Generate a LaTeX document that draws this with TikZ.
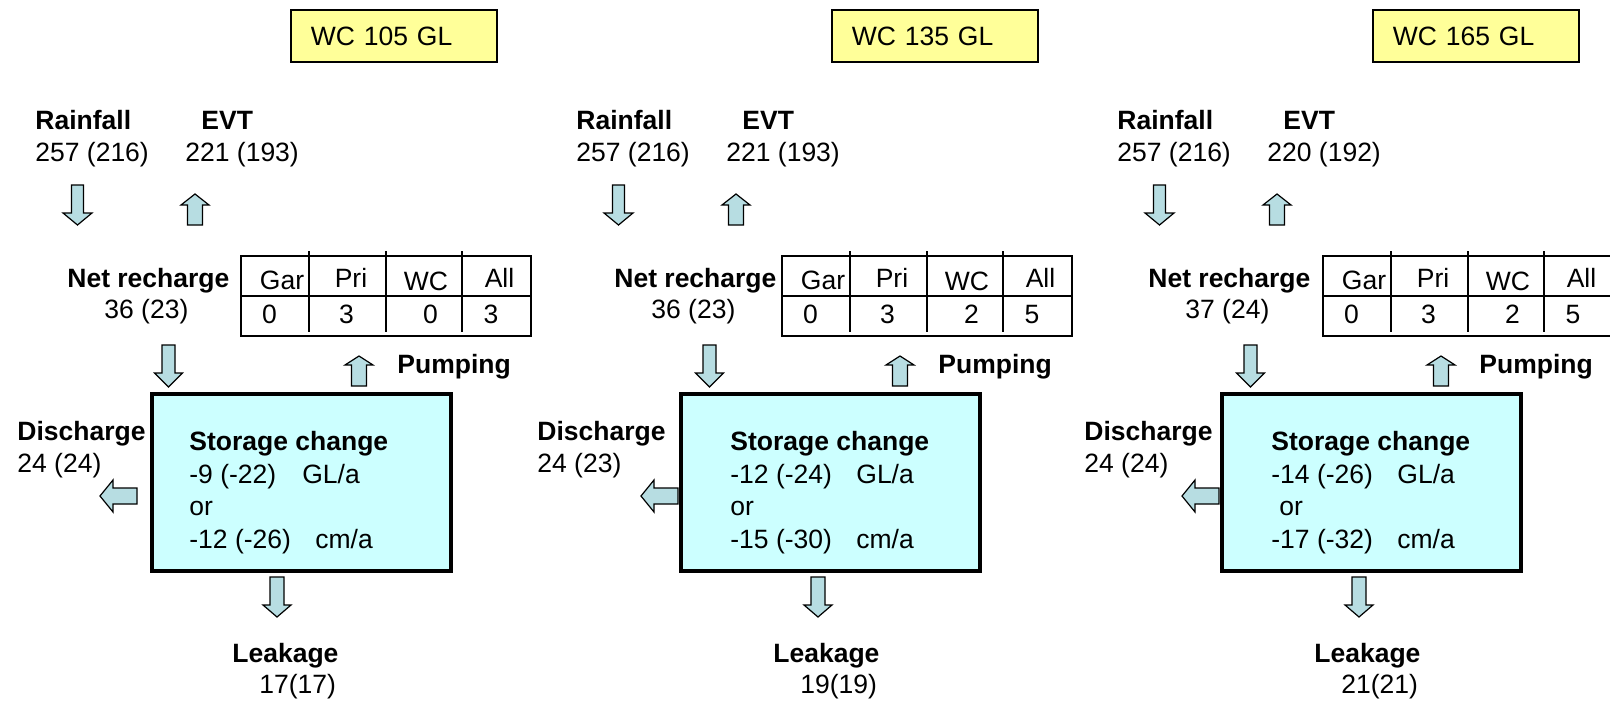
\documentclass[tikz,border=0pt]{standalone}
\usepackage{fontspec}
\setmainfont{Liberation Sans}
\definecolor{titlefill}{HTML}{FFFF99}
\definecolor{storefill}{HTML}{CCFFFF}
\definecolor{arrowfill}{RGB}{183,221,226}

% block arrows: vertical (cx, tail, head base, tip, shaft half-width, head half-width)
\newcommand\flowv[6]{\filldraw[flowarrow] ({#1-#5},#2) -- ({#1+#5},#2) -- ({#1+#5},#3) -- ({#1+#6},#3) -- (#1,#4) -- ({#1-#6},#3) -- ({#1-#5},#3) -- cycle;}
% horizontal (cy, tail, head base, tip, shaft half-width, head half-width)
\newcommand\flowh[6]{\filldraw[flowarrow] (#2,{#1-#5}) -- (#2,{#1+#5}) -- (#3,{#1+#5}) -- (#3,{#1+#6}) -- (#4,#1) -- (#3,{#1-#6}) -- (#3,{#1-#5}) -- cycle;}

\begin{document}
\begin{tikzpicture}[x=0.5pt,y=-0.5pt,
  basefont/.style={font=\fontsize{13.25pt}{16pt}\selectfont},
  txt/.style={basefont,anchor=base west,inner sep=0pt},
  head/.style={txt,font=\fontsize{13.25pt}{16pt}\selectfont\bfseries},
  cell/.style={basefont,anchor=base,inner sep=0pt},
  titlebox/.style={draw,line width=0.9pt,fill=titlefill,anchor=north west,
    minimum width=103pt,minimum height=26pt,inner xsep=10pt,inner ysep=0pt,
    text width=83pt,align=left,basefont},
  storebox/.style={draw,line width=2pt,fill=storefill,minimum width=149.5pt,
    minimum height=88.5pt,inner sep=0pt},
  flowarrow/.style={draw=black,line width=0.6pt,fill=arrowfill,line join=miter},
  tableline/.style={line width=1pt}]

\useasboundingbox (0,0) rectangle (1610,701);
\clip (0,0) rectangle (1610,701);
\fill[white] (0,0) rectangle (1610,701);

\foreach \p/\dx/\title/\evt/\nr/\nrx/\wcv/\allv/\gl/\glw/\cm/\orx/\dis/\disx/\boxc/\leak in {
  1/0/WC 105 GL/221 (193)/36 (23)/0/0/3/-9 (-22)/56.5pt/-12 (-26)/0/24 (24)/17/301.5/17(17),
  2/541/WC 135 GL/221 (193)/36 (23)/6/2/5/-12 (-24)/63pt/-15 (-30)/0/24 (23)/-4/289/19(19),
  3/1082/WC 165 GL/220 (192)/37 (24)/-1/2/5/-14 (-26)/63pt/-17 (-32)/8/24 (24)/2/289/21(21)}
{
\begin{scope}[xshift=\dx*0.5pt]
  % scenario title
  \node[titlebox] (p\p-title) at (290,9) {\title};

  % rainfall and evapotranspiration
  \node[head] (p\p-rain) at (35,129) {Rainfall};
  \node[txt] (p\p-rainv) at (35,162) {257 (216)};
  \node[head] (p\p-evt) at (201,129) {EVT};
  \node[txt] (p\p-evtv) at (185,162) {\evt};
  \flowv{77.5}{185}{213}{225}{6}{14.5}
  \flowv{195}{225}{205}{194}{7.5}{14}

  % net recharge
  \node[head] (p\p-nr) at ({67+\nrx},287) {Net recharge};
  \node[txt] (p\p-nrv) at ({104+\nrx},318) {\nr};

  % pumping table
  \draw[line width=1.2pt] (241,256) rectangle (531,336);
  \draw[tableline] (241,296) -- (531,296);
  \foreach \vx in {309,386,462} \draw[tableline] (\vx,251) -- (\vx,332);
  \node[cell] (p\p-gar) at (282,289) {Gar};
  \node[cell] (p\p-pri) at (351,287) {Pri};
  \node[cell] (p\p-wc) at (426,290) {WC};
  \node[cell] (p\p-all) at (499.5,287) {All};
  \node[cell] (p\p-garv) at (269.5,323) {0};
  \node[cell] (p\p-priv) at (346.5,323) {3};
  \node[cell] (p\p-wcv) at (430.5,323) {\wcv};
  \node[cell] (p\p-allv) at (491,323) {\allv};

  % aquifer storage
  \node[storebox] (p\p-box) at (\boxc,482.5) {};
  \node[head] (p\p-store) at (189,450) {Storage change};
  \node[txt] (p\p-gl) at (189,483) {\makebox[\glw][l]{\gl}GL/a};
  \node[txt] (p\p-or) at ({189+\orx},515) {or};
  \node[txt] (p\p-cm) at (189,548) {\makebox[63pt][l]{\cm}cm/a};

  % fluxes into and out of storage
  \flowv{168.5}{345}{373}{387}{6.5}{14}
  \flowv{359}{386}{365}{356}{7.5}{14}
  \node[head] (p\p-pump) at (397,373) {Pumping};
  \flowh{496}{137}{113}{100}{8}{16}
  \node[head] (p\p-dis) at (\disx,440) {Discharge};
  \node[txt] (p\p-disv) at (\disx,472) {\dis};
  \flowv{277}{577}{605}{617}{7}{14}
  \node[head] (p\p-leak) at (232,662) {Leakage};
  \node[txt] (p\p-leakv) at (259,693) {\leak};
\end{scope}
}
\end{tikzpicture}
\end{document}
